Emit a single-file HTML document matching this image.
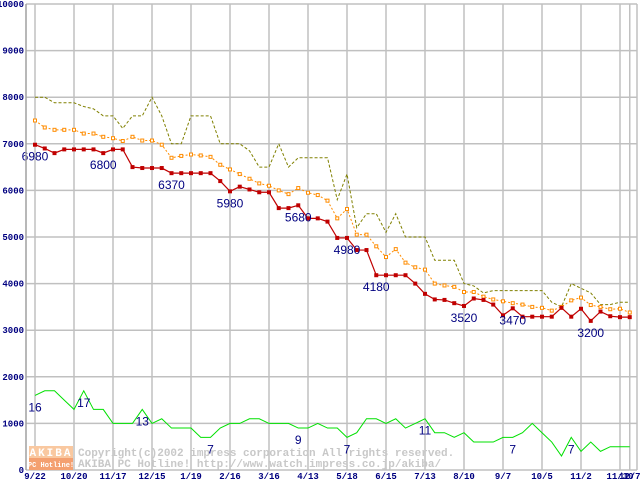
<!DOCTYPE html>
<html><head><meta charset="utf-8"><style>
body{margin:0;background:#fff;width:640px;height:480px;overflow:hidden}
svg{display:block}
</style></head><body>
<svg id="chart" width="640" height="480" xmlns="http://www.w3.org/2000/svg" font-family="Liberation Mono, monospace">
<g id="grid"></g>
<g id="wm">
<rect x="29" y="446" width="44" height="12" fill="#f9c8a0"/>
<rect x="29" y="458" width="44" height="12" fill="#f4a070"/>
<text x="51" y="456" font-size="11" font-weight="bold" fill="#fff" text-anchor="middle" letter-spacing="2">AKIBA</text>
<text x="51" y="467" font-size="7" font-weight="bold" fill="#fff" text-anchor="middle">PC Hotline!</text>
<text x="78" y="456" font-size="11" font-weight="bold" fill="#c8c8c8">Copyright(c)2002 impress corporation All rights reserved.</text>
<text x="78" y="467" font-size="11" font-weight="bold" fill="#c8c8c8">AKIBA PC Hotline!  http://www.watch.impress.co.jp/akiba/</text>
</g>
<g id="series"></g>
<g id="axes"></g>
</svg>
<script>
const xLabels=["9/22","10/20","11/17","12/15","1/19","2/16","3/16","4/13","5/18","6/15","7/13","8/10","9/7","10/5","11/2","11/30","12/7"];
const xLabelIdx=[0,4,8,12,16,20,24,28,32,36,40,44,48,52,56,60,61];
const yTicks=[0,1000,2000,3000,4000,5000,6000,7000,8000,9000,10000];
const minPrice=[6980,6900,6800,6880,6880,6880,6880,6800,6880,6880,6500,6480,6480,6480,6370,6370,6370,6370,6370,6200,5980,6080,6020,5960,5960,5620,5620,5680,5400,5400,5330,4980,4980,4720,4720,4180,4180,4180,4180,4000,3780,3660,3650,3580,3520,3680,3650,3550,3320,3470,3290,3290,3290,3290,3480,3290,3460,3200,3400,3300,3280,3280];
const avgPrice=[7500,7350,7300,7300,7300,7220,7220,7150,7120,7060,7150,7070,7070,6980,6700,6740,6770,6750,6720,6550,6450,6350,6250,6150,6100,6000,5920,6050,5950,5900,5780,5400,5600,5050,5050,4800,4570,4740,4450,4350,4300,4000,3960,3930,3820,3820,3720,3660,3620,3580,3550,3500,3480,3420,3500,3640,3700,3540,3500,3450,3460,3380];
const maxPrice=[8000,8000,7880,7880,7880,7800,7750,7600,7600,7330,7600,7600,8000,7600,7000,7000,7600,7600,7600,7000,7000,7000,6850,6500,6500,7000,6500,6700,6700,6700,6700,5800,6350,5200,5500,5500,5100,5500,5000,5000,5000,4500,4500,4500,4000,3950,3800,3850,3850,3850,3850,3850,3850,3600,3500,4000,3900,3800,3550,3550,3600,3600];
const shopCount=[16,17,17,15,13,17,13,13,10,10,10,13,10,11,9,9,9,7,7,9,10,10,11,11,10,10,10,9,9,10,9,9,7,8,11,11,10,11,9,10,11,8,8,7,8,6,6,6,7,7,8,10,8,6,3,7,4,6,4,5,5,5];
const minLabelIdx=[0,7,14,20,27,32,35,44,49,57];
const countLabelIdx=[0,5,11,18,27,32,40,49,55];

const NS="http://www.w3.org/2000/svg";
const X=i=>35+i*9.75;
const Y=v=>470-v*0.0466;
function mk(t,a,p){const e=document.createElementNS(NS,t);for(const k in a)e.setAttribute(k,a[k]);p.appendChild(e);return e;}
const grid=document.getElementById('grid'),ser=document.getElementById('series'),ax=document.getElementById('axes');
yTicks.forEach(v=>{
 const l=mk('line',{x1:26,x2:637,y1:Y(v),y2:Y(v),stroke:'#c0c0c0','stroke-width':1.5},grid);
 
 
 const t=mk('text',{x:24,y:Y(v)+3,'font-size':9,'font-weight':'bold',fill:'#000080','text-anchor':'end'},ax);
 t.textContent=v;
 
 
});
xLabelIdx.forEach((i,k)=>{
 const l=mk('line',{x1:X(i),x2:X(i),y1:4,y2:470,stroke:'#c0c0c0','stroke-width':1.5},grid);
 
 
 const t=mk('text',{x:X(i),y:479,'font-size':9,'font-weight':'bold',fill:'#000080','text-anchor':'middle'},ax);
 t.textContent=xLabels[k];
 
 
});
const fr=mk('line',{x1:637,x2:637,y1:4,y2:470,stroke:'#c0c0c0','stroke-width':1.5},grid);


const ya=mk('line',{x1:26,x2:26,y1:4,y2:470,stroke:'#a0a0a0','stroke-width':1.5},ax);


function line(vals,color,dash,name,w){
 const p=mk('polyline',{points:vals.map((v,i)=>X(i)+','+Y(v)).join(' '),fill:'none',stroke:color,'stroke-width':w||1,'stroke-dasharray':dash||'none'},ser);
 
 
}
line(shopCount.map(c=>c*100),'#00e000','', 'shop-count-line');
line(maxPrice,'#808000','3,2','max-price-line');
line(avgPrice,'#ff8c00','2,2','avg-price-line');
line(minPrice,'#c00000','','min-price-line',1.2);
avgPrice.forEach((v,i)=>{
 const r=mk('rect',{x:X(i)-1.5,y:Y(v)-1.5,width:3,height:3,fill:'#fff',stroke:'#ff8c00','stroke-width':1},ser);
 
 
});
minPrice.forEach((v,i)=>{
 const r=mk('rect',{x:X(i)-2,y:Y(v)-2,width:4,height:4,fill:'#c00000'},ser);
 
 
});
minLabelIdx.forEach(i=>{
 const t=mk('text',{x:X(i),y:Y(minPrice[i])+16,'font-size':12,fill:'#000080','text-anchor':'middle','font-family':'Liberation Sans, sans-serif'},ser);
 t.textContent=minPrice[i];
 
 
});
countLabelIdx.forEach(i=>{
 const t=mk('text',{x:X(i),y:Y(shopCount[i]*100)+16,'font-size':12,fill:'#000080','text-anchor':'middle','font-family':'Liberation Sans, sans-serif'},ser);
 t.textContent=shopCount[i];
 
 
});
</script>
</body></html>
